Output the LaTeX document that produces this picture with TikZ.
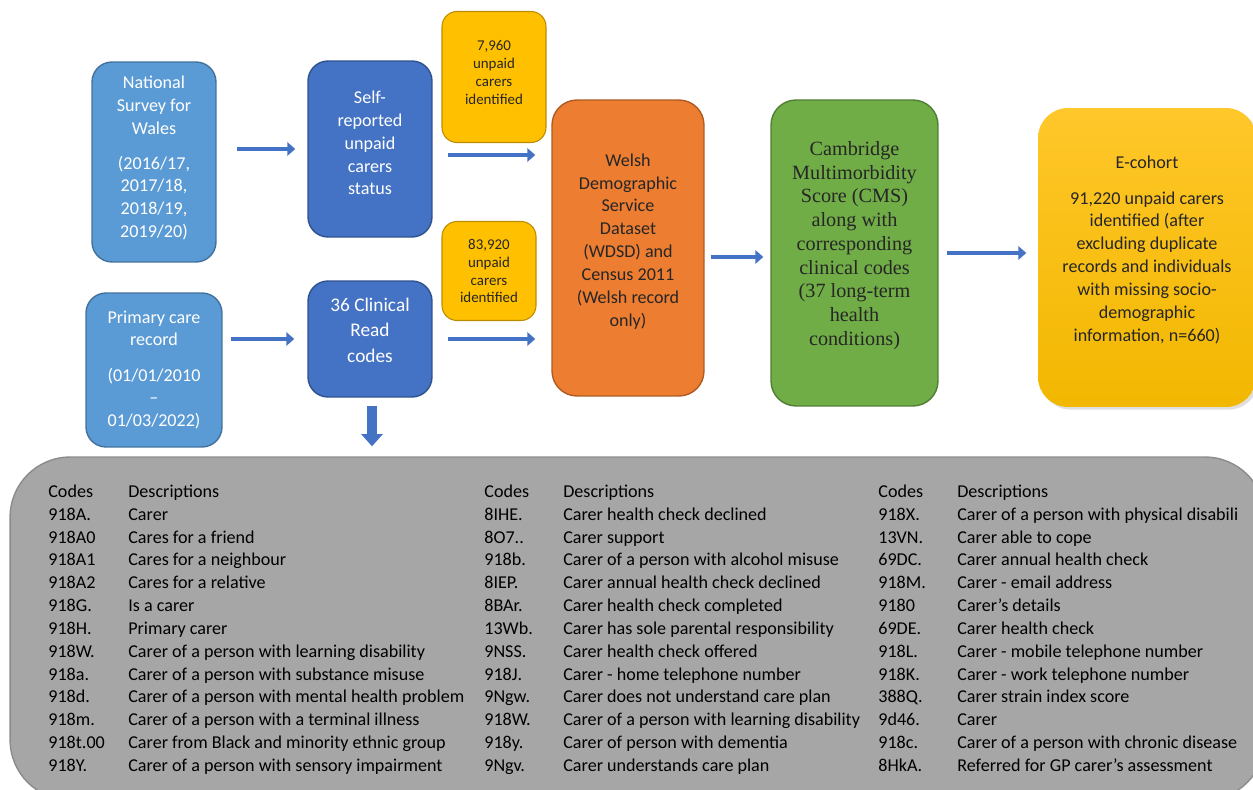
\documentclass[tikz,border=0pt]{standalone}
\usepackage{fontspec}
\setmainfont{Carlito}
\newfontfamily\cmsfont{Liberation Serif}
\usepackage{tikz}
\usetikzlibrary{positioning, arrows.meta, calc, shadows}
\usepackage{xcolor}
\definecolor{wlsLightBlue}{HTML}{5B9BD5}
\definecolor{wlsLightBlueEdge}{HTML}{41719C}
\definecolor{wlsBlue}{HTML}{4472C4}
\definecolor{wlsBlueEdge}{HTML}{2F528F}
\definecolor{wlsYellow}{HTML}{FFC000}
\definecolor{wlsYellowEdge}{HTML}{BC8C00}
\definecolor{wlsOrange}{HTML}{ED7D31}
\definecolor{wlsOrangeEdge}{HTML}{AE5A21}
\definecolor{wlsGreen}{HTML}{70AD47}
\definecolor{wlsGreenEdge}{HTML}{507E32}
\definecolor{wlsCohortTop}{HTML}{FFC72A}
\definecolor{wlsCohortBottom}{HTML}{F2B700}
\definecolor{wlsGrey}{HTML}{A6A6A6}
\definecolor{wlsGreyEdge}{HTML}{8C8C8C}
\definecolor{wlsText}{HTML}{262626}

\begin{document}
\begin{tikzpicture}[
        x=0.02cm, y=-0.02cm,
        font=\fontsize{10.3}{13}\selectfont,
        % box styles
        srcbox/.style={
            rectangle,
            draw=wlsLightBlueEdge,
            fill=wlsLightBlue,
            text=white,
            rounded corners=0.4cm,
            align=center,
            inner sep=0pt,
            line width=0.8pt
        },
        stepbox/.style={
            srcbox,
            draw=wlsBlueEdge,
            fill=wlsBlue
        },
        countbox/.style={
            rectangle,
            draw=wlsYellowEdge,
            fill=wlsYellow,
            text=wlsText,
            rounded corners=0.3cm,
            align=center,
            inner sep=0pt,
            line width=0.6pt,
            font=\fontsize{8.5}{10.2}\selectfont
        },
        linkbox/.style={
            rectangle,
            rounded corners=0.5cm,
            align=center,
            inner sep=0pt,
            text=wlsText,
            line width=0.8pt
        },
        codetab/.style={anchor=north west, inner sep=0pt},
        % arrow styles
        flow/.style={-{Triangle[length=4.5pt,width=7.5pt]}, line width=2.6pt, color=wlsBlue},
        downflow/.style={-{Triangle[length=7pt,width=12pt]}, line width=5.5pt, color=wlsBlue}
    ]
    \useasboundingbox (0,0) rectangle (1253,790);

    % -- Sources --
    \node[srcbox, minimum width=2.48cm, minimum height=4cm, text depth=6pt] (nsw) at (154,162)
        {National\\Survey for\\Wales\\[7pt](2016/17,\\2017/18,\\2018/19,\\2019/20)};

    \node[srcbox, minimum width=2.72cm, minimum height=3.08cm] (pcr) at (154,370)
        {Primary care\\record\\[7pt](01/01/2010\\--\\01/03/2022)};

    % -- Identification --
    \node[stepbox, minimum width=2.48cm, minimum height=3.52cm, text depth=6.8pt] (self) at (370,149)
        {Self-\\reported\\unpaid\\carers\\status};

    \node[stepbox, minimum width=2.48cm, minimum height=2.32cm, text depth=10pt,
          font=\fontsize{11}{14.4}\selectfont] (read) at (370,339)
        {36 Clinical\\Read\\codes};

    \node[countbox, minimum width=2.08cm, minimum height=2.62cm, text depth=5.6pt] (nsurv) at (494,77)
        {7,960\\unpaid\\carers\\identified};

    \node[countbox, minimum width=1.88cm, minimum height=1.98cm] (nread) at (489,271)
        {83,920\\unpaid\\carers\\identified};

    % -- Linkage --
    \node[linkbox, draw=wlsOrangeEdge, fill=wlsOrange, minimum width=3.04cm, minimum height=5.92cm,
          text depth=9.3pt] (wdsd) at (628,248)
        {Welsh\\Demographic\\Service\\Dataset\\(WDSD) and\\Census 2011\\(Welsh record\\only)};

    \node[linkbox, draw=wlsGreenEdge, fill=wlsGreen, minimum width=3.34cm, minimum height=6.12cm,
          text depth=11pt, font=\cmsfont\fontsize{11.5}{13.5}\selectfont] (cms) at (854.5,253)
        {Cambridge\\Multimorbidity\\Score (CMS)\\along with\\corresponding\\clinical codes\\(37 long-term\\health\\conditions)};

    \node[linkbox, rounded corners=0.6cm, top color=wlsCohortTop, bottom color=wlsCohortBottom,
          drop shadow={opacity=0.25, shadow xshift=1.5pt, shadow yshift=-1.5pt},
          minimum width=4.36cm, minimum height=5.98cm, text depth=10pt] (cohort) at (1147,257.5)
        {E-cohort\\[7pt]91,220 unpaid carers\\identified (after\\excluding duplicate\\records and individuals\\with missing socio-\\demographic\\information, n=660)};

    % -- Read code list --
    \node[rectangle, rounded corners=1.2cm, draw=wlsGreyEdge, fill=wlsGrey, line width=0.8pt,
          minimum width=25.1cm, minimum height=6.86cm] (codes) at (637.5,628.5) {};

    \node[codetab] (codesA) at (48,481) {\begin{tabular}{@{}p{1.6cm}@{}l@{}}
        Codes & Descriptions\\
        918A. & Carer\\
        918A0 & Cares for a friend\\
        918A1 & Cares for a neighbour\\
        918A2 & Cares for a relative\\
        918G. & Is a carer\\
        918H. & Primary carer\\
        918W. & Carer of a person with learning disability\\
        918a. & Carer of a person with substance misuse\\
        918d. & Carer of a person with mental health problem\\
        918m. & Carer of a person with a terminal illness\\
        918t.00 & Carer from Black and minority ethnic group\\
        918Y. & Carer of a person with sensory impairment
    \end{tabular}};

    \node[codetab] (codesB) at (484,481) {\begin{tabular}{@{}p{1.58cm}@{}l@{}}
        Codes & Descriptions\\
        8IHE. & Carer health check declined\\
        8O7.. & Carer support\\
        918b. & Carer of a person with alcohol misuse\\
        8IEP. & Carer annual health check declined\\
        8BAr. & Carer health check completed\\
        13Wb. & Carer has sole parental responsibility\\
        9NSS. & Carer health check offered\\
        918J. & Carer - home telephone number\\
        9Ngw. & Carer does not understand care plan\\
        918W. & Carer of a person with learning disability\\
        918y. & Carer of person with dementia\\
        9Ngv. & Carer understands care plan
    \end{tabular}};

    \node[codetab] (codesC) at (878,481) {\begin{tabular}{@{}p{1.58cm}@{}l@{}}
        Codes & Descriptions\\
        918X. & Carer of a person with physical disabili\\
        13VN. & Carer able to cope\\
        69DC. & Carer annual health check\\
        918M. & Carer - email address\\
        9180 & Carer's details\\
        69DE. & Carer health check\\
        918L. & Carer - mobile telephone number\\
        918K. & Carer - work telephone number\\
        388Q. & Carer strain index score\\
        9d46. & Carer\\
        918c. & Carer of a person with chronic disease\\
        8HkA. & Referred for GP carer's assessment
    \end{tabular}};

    % -- Flow --
    \draw[flow, shorten <=0.4cm, shorten >=0.24cm] (nsw.east |- self.west) -- (self.west);
    \draw[flow, shorten <=0.16cm, shorten >=0.26cm] (pcr.east |- read.west) -- (read.west);
    \draw[flow, shorten <=0.3cm, shorten >=0.32cm] ([yshift=-0.12cm]self.east) -- ([yshift=-0.12cm]self.east -| wdsd.west);
    \draw[flow, shorten <=0.3cm, shorten >=0.32cm] (read.east) -- (read.east -| wdsd.west);
    \draw[flow, shorten <=0.12cm, shorten >=0.14cm] ([yshift=-0.08cm]wdsd.east |- cms.west) -- ([yshift=-0.08cm]cms.west);
    \draw[flow, shorten <=0.16cm, shorten >=0.22cm] (cms.east) -- (cms.east -| cohort.west);
    \draw[downflow, shorten <=0.16cm, shorten >=0.2cm] ([xshift=0.04cm]read.south) -- ([xshift=0.04cm]read.south |- codes.north);

\end{tikzpicture}
\end{document}
